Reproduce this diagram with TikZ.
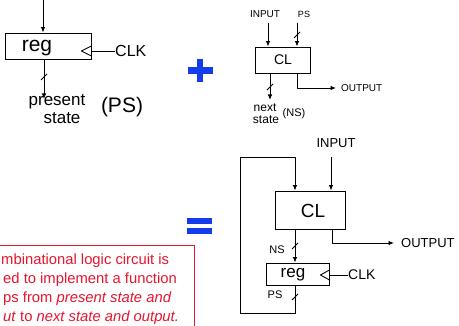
\documentclass[tikz,border=0pt]{standalone}
\usepackage{fontspec}
\setmainfont{Liberation Sans}
\usetikzlibrary{arrows.meta}
\definecolor{noteRed}{RGB}{230,20,45}
\definecolor{signBlue}{RGB}{20,60,235}
\tikzset{
  wire/.style={line width=0.9pt, line join=round},
  arr/.style={wire, -{Latex[length=5.5pt,width=4.5pt]}},
  blk/.style={draw, line width=0.9pt, rectangle, inner sep=0pt},
  lbl/.style={inner sep=0pt, font=\fontsize{#1}{#1}\selectfont},
  note/.style={anchor=base west, inner sep=0pt, text=noteRed, font=\fontsize{14.8}{18}\selectfont},
}
\newcommand\busslash[2]{\draw[wire] (#1,#2) ++(-3,3) -- ++(6,-6);}
\begin{document}
\begin{tikzpicture}[x=1pt,y=-1pt]
\useasboundingbox (0,0) rectangle (459,326);
% ---------- top-left: register ----------
\node[blk, minimum width=86pt, minimum height=26pt] (regA) at (48,46) {};
\node[lbl=21] (regAt) at (37,48) {reg};
\coordinate (inA) at (43,0);
\draw[arr] (inA) -- (inA |- regA.north);
\coordinate (psA) at (44,99);
\draw[arr] (psA |- regA.south) -- (psA);
\busslash{44}{77}
\node[lbl=16, anchor=west] (clkA) at (115,51) {CLK};
\draw[wire] (clkA.west) -- (clkA.west -| regA.east);
\draw[wire] (regA.east) -- ++(-10,5) -- ++(10,5);
\node[lbl=17] (presA) at (57,102) {present};
\node[lbl=17] (stateA) at (62,118) {state};
\node[lbl=21] (psAt) at (122,107) {(PS)};
% ---------- plus ----------
\fill[signBlue] (188,67) rectangle (213,74);
\fill[signBlue] (197,59) rectangle (203,82);
% ---------- top-right: CL ----------
\node[blk, minimum width=55pt, minimum height=26pt] (clA) at (282.5,60) {};
\node[lbl=14] (clAt) at (283,60) {CL};
\node[lbl=10] (inB) at (265,14) {INPUT};
\node[lbl=9] (psB) at (304,14) {PS};
\coordinate (inBx) at (268,23);
\draw[arr] (inBx) -- (inBx |- clA.north);
\coordinate (psBx) at (297,23);
\draw[arr] (psBx) -- (psBx |- clA.north);
\busslash{297}{35}
\coordinate (nsB) at (270,100);
\draw[arr] (nsB |- clA.south) -- (nsB);
\busslash{270}{87}
\node[lbl=12] (nextB) at (265,108) {next};
\node[lbl=12] (stateB) at (266,120) {state};
\node[lbl=11] (nsBt) at (294,114) {(NS)};
\node[lbl=10, anchor=west] (outB) at (341,88) {OUTPUT};
\coordinate (outBx) at (297,88);
\draw[arr, shorten >=5pt] (outBx |- clA.south) -- (outBx) -- (outB.west);
% ---------- equals ----------
\fill[signBlue] (187,218) rectangle (212,224);
\fill[signBlue] (187,228) rectangle (212,234);
% ---------- bottom: FSM ----------
\node[lbl=13] (inC) at (336,143) {INPUT};
\node[blk, minimum width=70pt, minimum height=38pt] (clC) at (310,210) {};
\node[lbl=19] (clCt) at (313,211) {CL};
\node[blk, minimum width=63pt, minimum height=22pt] (regC) at (297.5,274) {};
\node[lbl=17] (regCt) at (293,275) {reg};
\coordinate (inCx) at (331,157);
\draw[arr] (inCx) -- (inCx |- clC.north);
\coordinate (loopTop) at (240,157);
\coordinate (loopBot) at (240,313);
\coordinate (fb) at (295,313);
\draw[arr] (fb |- regC.south) -- (fb) -- (loopBot) -- (loopTop) -- (loopTop -| fb) -- (fb |- clC.north);
\busslash{295}{297}
\node[lbl=11] (psC) at (275,295) {PS};
\draw[arr] (fb |- clC.south) -- (fb |- regC.north);
\busslash{295}{246}
\node[lbl=11] (nsC) at (277,250) {NS};
\node[lbl=13, anchor=west] (outC) at (401,243) {OUTPUT};
\coordinate (outCx) at (332,243);
\draw[arr, shorten >=7pt] (outCx |- clC.south) -- (outCx) -- (outC.west);
\node[lbl=14, anchor=west] (clkC) at (348,275) {CLK};
\draw[wire] (clkC.west) -- (clkC.west -| regC.east);
\draw[wire] (regC.east) ++(0,-4) -- ++(-9,5) -- ++(9,5);
% ---------- note box ----------
\draw[noteRed, line width=0.8pt] (0,245) -- (194,245) -- (194,326);
\node[note] (n1) at (1,265) {mbinational logic circuit is};
\node[note] (n2) at (3,284) {ed to implement a function};
\node[note] (n3) at (3,303) {ps from \textit{present state and}};
\node[note] (n4) at (3,322) {\textit{ut} to \textit{next state and output.}};
\end{tikzpicture}
\end{document}
